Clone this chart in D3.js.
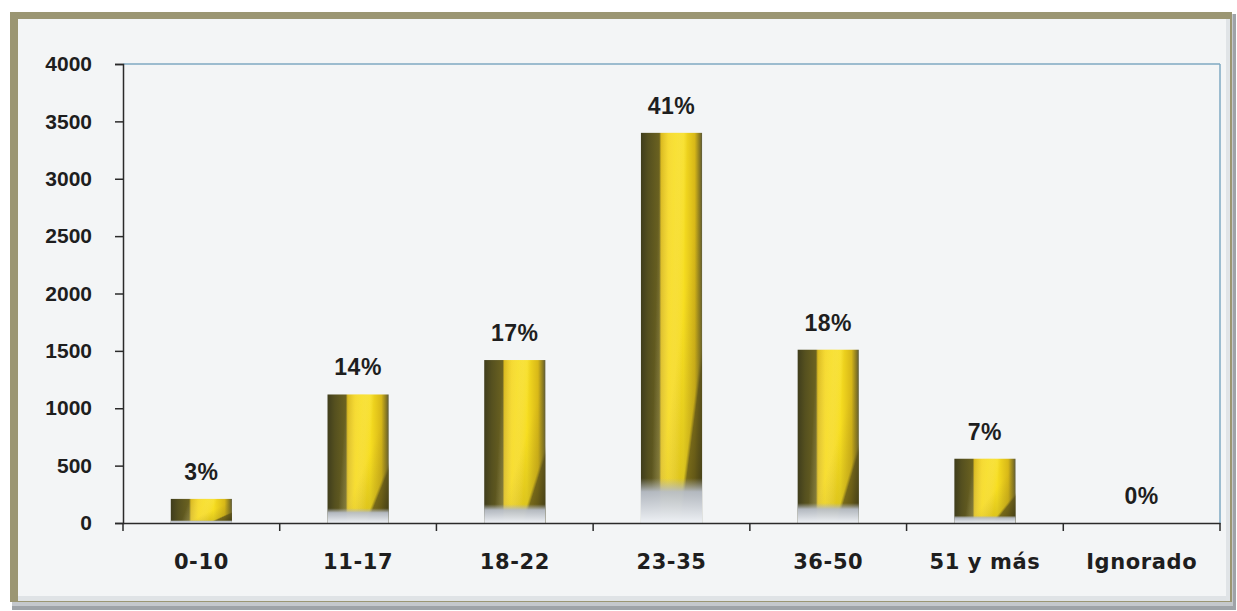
<!DOCTYPE html>
<html>
<head>
<meta charset="utf-8">
<script src="https://cdn.jsdelivr.net/npm/d3@7"></script>
<style>
  html, body { margin: 0; padding: 0; background: #ffffff; }
  svg { display: block; }
</style>
</head>
<body>
<svg id="chart" width="1237" height="611"></svg>
<script>
// ---- Data ----
const categories = ["0-10", "11-17", "18-22", "23-35", "36-50", "51 y más", "Ignorado"];
const values = [210, 1120, 1420, 3400, 1510, 560, 0];
const percentLabels = ["3%", "14%", "17%", "41%", "18%", "7%", "0%"];
const yTicks = [0, 500, 1000, 1500, 2000, 2500, 3000, 3500, 4000];

// ---- Layout ----
const W = 1237, H = 611;
const plot = { left: 123, right: 1220, top: 64, bottom: 523 };

const svg = d3.select("#chart");
const defs = svg.append("defs");

// Frame
svg.append("rect").attr("x", 0).attr("y", 0).attr("width", W).attr("height", H).attr("fill", "#ffffff");
// shadow (bottom / right)
svg.append("rect").attr("x", 12).attr("y", 14).attr("width", 1224).attr("height", 596).attr("fill", "#9ea3a8");
svg.append("rect").attr("x", 12).attr("y", 14).attr("width", 1221).attr("height", 592).attr("fill", "#c4c8cc");
// olive frame (top / left)
svg.append("rect").attr("x", 10).attr("y", 12).attr("width", 1222).attr("height", 590).attr("fill", "#9b9673");
// inner panel
svg.append("rect").attr("x", 18).attr("y", 19).attr("width", 1212).attr("height", 581).attr("fill", "#f3f5f6");
svg.append("rect").attr("x", 18).attr("y", 596).attr("width", 1212).attr("height", 5).attr("fill", "#dfe3e6");
svg.append("rect").attr("x", 1226).attr("y", 19).attr("width", 4).attr("height", 582).attr("fill", "#e0e4e7");

// ---- Scales ----
const x = d3.scaleBand().domain(categories).range([plot.left, plot.right]).paddingInner(0).paddingOuter(0);
const y = d3.scaleLinear().domain([0, 4000]).range([plot.bottom, plot.top]);

// ---- Gradients ----
const gH = defs.append("linearGradient").attr("id", "barH")
  .attr("x1", 0).attr("y1", 0).attr("x2", 1).attr("y2", 0);
[[0, "#3f3d1c"], [0.12, "#55501f"], [0.30, "#6b6220"], [0.33, "#d9b818"], [0.45, "#f3d214"],
 [0.70, "#f7de20"], [0.88, "#d8b818"], [0.96, "#8a7a22"], [1, "#5c5a3a"]]
  .forEach(([o, c]) => gH.append("stop").attr("offset", o).attr("stop-color", c));

const gD = defs.append("linearGradient").attr("id", "barD")
  .attr("x1", 1).attr("y1", 1).attr("x2", 0.55).attr("y2", 0.62);
[[0, "#3e3a14", 0.95], [0.45, "#5a5018", 0.8], [0.52, "#8a7a1a", 0.25], [1, "#8a7a1a", 0]]
  .forEach(([o, c, a]) => gD.append("stop").attr("offset", o).attr("stop-color", c).attr("stop-opacity", a));

const gL = defs.append("linearGradient").attr("id", "barL")
  .attr("x1", 0).attr("y1", 0).attr("x2", 1).attr("y2", 0.15);
[[0, "#ffffff", 0], [0.3, "#ffffff", 0], [0.55, "#fff36a", 0.35], [0.75, "#ffffff", 0]]
  .forEach(([o, c, a]) => gL.append("stop").attr("offset", o).attr("stop-color", c).attr("stop-opacity", a));

const gB = defs.append("linearGradient").attr("id", "barB")
  .attr("x1", 0).attr("y1", 0).attr("x2", 0).attr("y2", 1);
[[0, "#c0c6d0", 0], [0.885, "#b0b4b8", 0], [0.92, "#b8bec8", 0.95], [1, "#eef1f5", 1]]
  .forEach(([o, c, a]) => gB.append("stop").attr("offset", o).attr("stop-color", c).attr("stop-opacity", a));

// ---- Plot frame (top / right in blue) ----
svg.append("line").attr("x1", plot.left).attr("x2", plot.right).attr("y1", plot.top).attr("y2", plot.top)
  .attr("stroke", "#7fa8c2").attr("stroke-width", 1.5);
svg.append("line").attr("x1", plot.right).attr("x2", plot.right).attr("y1", plot.top).attr("y2", plot.bottom)
  .attr("stroke", "#7fa8c2").attr("stroke-width", 1.5);

// ---- Bars ----
const barW = x.bandwidth() * 0.39;
const bars = svg.append("g").selectAll("g").data(categories.map((c, i) => ({ c, v: values[i], p: percentLabels[i] })))
  .join("g");
["url(#barH)", "url(#barL)", "url(#barD)", "url(#barB)"].forEach(fill => {
  bars.filter(d => d.v > 0).append("rect")
    .attr("x", d => x(d.c) + (x.bandwidth() - barW) / 2)
    .attr("y", d => y(d.v))
    .attr("width", barW)
    .attr("height", d => y(0) - y(d.v))
    .attr("fill", fill);
});

// Percent labels
bars.append("text")
  .attr("x", d => x(d.c) + x.bandwidth() / 2)
  .attr("y", d => y(d.v) - 19)
  .attr("text-anchor", "middle")
  .attr("font-family", "Liberation Sans, Arial, sans-serif")
  .attr("font-weight", "bold")
  .attr("font-size", 23)
  .attr("letter-spacing", 0.5)
  .attr("fill", "#1e1e1e")
  .text(d => d.p);

// ---- Y axis ----
const yAxis = svg.append("g").attr("transform", `translate(${plot.left},0)`)
  .call(d3.axisLeft(y).tickValues(yTicks).tickSize(8).tickPadding(23).tickFormat(d3.format("d")));
yAxis.select(".domain").attr("stroke", "#2a2a2a").attr("stroke-width", 1.5);
yAxis.selectAll(".tick line").attr("stroke", "#2a2a2a").attr("stroke-width", 1.5);
yAxis.selectAll(".tick text")
  .attr("font-family", "Liberation Sans, Arial, sans-serif")
  .attr("font-weight", "bold")
  .attr("font-size", 21)
  .attr("fill", "#1e1e1e");

// ---- X axis ----
const xAxis = svg.append("g").attr("transform", `translate(0,${plot.bottom})`)
  .call(d3.axisBottom(x).tickSize(0).tickPadding(31));
xAxis.select(".domain").attr("stroke", "#2a2a2a").attr("stroke-width", 1.5);
xAxis.selectAll(".tick text")
  .attr("font-family", "DejaVu Sans, Verdana, sans-serif")
  .attr("font-weight", "bold")
  .attr("font-size", 21)
  .attr("letter-spacing", 0.6)
  .attr("fill", "#1e1e1e");

// boundary ticks
const bounds = categories.map(c => x(c)).concat([x(categories[categories.length - 1]) + x.bandwidth()]);
svg.append("g").selectAll("line").data(bounds).join("line")
  .attr("x1", d => d).attr("x2", d => d)
  .attr("y1", plot.bottom).attr("y2", plot.bottom + 8)
  .attr("stroke", "#2a2a2a").attr("stroke-width", 1.5);
</script>
</body>
</html>
